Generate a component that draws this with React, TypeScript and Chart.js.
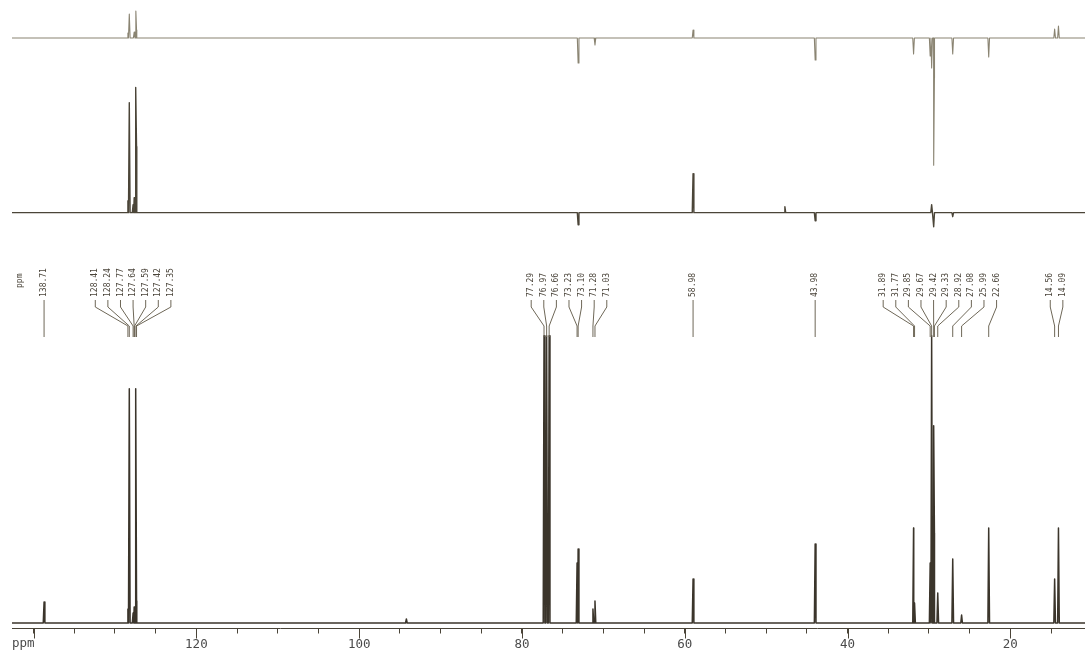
import React, { useEffect, useRef } from "react";
import { Chart, registerables } from "chart.js";

Chart.register(...registerables);

// ppm range of the x axis (reversed, high ppm on the left)
const ppmMin = 10.83;
const ppmMax = 142.65;

// 13C spectrum (bottom trace): [ppm, intensity]
const carbonPeaks: [number, number][] = [
  [138.71, 21],
  [128.41, 14],
  [128.24, 234],
  [127.77, 10],
  [127.64, 16],
  [127.59, 14],
  [127.42, 234],
  [127.35, 22],
  [94.2, 4],
  [77.29, 287],
  [76.97, 287],
  [76.66, 287],
  [73.23, 60],
  [73.1, 74],
  [71.28, 14],
  [71.03, 22],
  [58.98, 44],
  [43.98, 79],
  [31.89, 95],
  [31.77, 20],
  [29.85, 60],
  [29.67, 287],
  [29.42, 197],
  [29.33, 90],
  [28.92, 30],
  [27.08, 64],
  [25.99, 8],
  [22.66, 95],
  [14.56, 44],
  [14.09, 95],
];

// DEPT-90 (middle trace)
const dept90Peaks: [number, number][] = [
  [128.41, 12],
  [128.24, 110],
  [127.77, 8],
  [127.64, 15],
  [127.59, 10],
  [127.42, 125],
  [127.35, 66],
  [73.1, -12],
  [58.98, 39],
  [47.7, 6],
  [43.98, -8],
  [29.67, 8],
  [29.42, -14],
  [27.08, -4],
];

// DEPT-135 (top trace)
const dept135Peaks: [number, number][] = [
  [128.41, 5],
  [128.24, 24],
  [127.64, 6],
  [127.42, 27],
  [127.35, 8],
  [73.1, -25],
  [71.03, -7],
  [58.98, 8],
  [43.98, -22],
  [31.89, -16],
  [29.85, -18],
  [29.67, -30],
  [29.42, -127],
  [29.33, -40],
  [27.08, -16],
  [22.66, -19],
  [14.56, 9],
  [14.09, 12],
];

// peak-pick labels, grouped as printed
const labelGroups: number[][] = [
  [138.71],
  [128.41, 128.24, 127.77, 127.64, 127.59, 127.42, 127.35],
  [77.29, 76.97, 76.66, 73.23, 73.1, 71.28, 71.03],
  [58.98],
  [43.98],
  [31.89, 31.77, 29.85, 29.67, 29.42, 29.33, 28.92, 27.08, 25.99, 22.66],
  [14.56, 14.09],
];

const tickStep = 5;
const majorTickStep = 20;
const tickLabels = ["120", "100", "80", "60", "40", "20"];

function buildTrace(peaks: [number, number][], halfWidth: number) {
  const pts: { x: number; y: number }[] = [{ x: ppmMax, y: 0 }];
  for (const [p, h] of peaks) {
    pts.push({ x: p + halfWidth, y: 0 }, { x: p, y: h }, { x: p - halfWidth, y: 0 });
  }
  pts.push({ x: ppmMin, y: 0 });
  pts.sort((a, b) => b.x - a.x);
  return pts;
}

const INK = "#4a4438";

const annotationPlugin = {
  id: "nmrAnnotations",
  afterDraw(chart: any) {
    const { ctx, chartArea } = chart;
    const x = chart.scales.x;
    ctx.save();

    // longer major ticks
    ctx.strokeStyle = INK;
    ctx.lineWidth = 1;
    for (const t of x.ticks) {
      const v = Math.round(t.value);
      if (v % majorTickStep === 0) {
        const px = Math.round(x.getPixelForValue(v)) + 0.5;
        ctx.beginPath();
        ctx.moveTo(px, chartArea.bottom);
        ctx.lineTo(px, chartArea.bottom + 10);
        ctx.stroke();
      }
    }

    // axis unit label
    ctx.fillStyle = "#4a4a4a";
    ctx.font = "12.5px 'DejaVu Sans Mono'";
    ctx.textAlign = "left";
    ctx.textBaseline = "middle";
    ctx.fillText("ppm", 12, 644);

    // peak labels
    const spacing = 12.6;
    const textBottom = 297;
    ctx.font = "8px 'DejaVu Sans Mono'";
    ctx.fillStyle = "#4a443a";
    ctx.strokeStyle = "#6e6757";
    ctx.lineWidth = 1;

    // small vertical "ppm"
    ctx.save();
    ctx.translate(19.5, 288);
    ctx.rotate(-Math.PI / 2);
    ctx.textAlign = "left";
    ctx.textBaseline = "middle";
    ctx.fillText("ppm", 0, 0);
    ctx.restore();

    for (const group of labelGroups) {
      const pxs = group.map((p) => x.getPixelForValue(p));
      const n = group.length;
      const c = pxs.reduce((a, b) => a + b, 0) / n;
      group.forEach((p, i) => {
        const lx = n === 1 ? pxs[i] : c + (i - (n - 1) / 2) * spacing;
        const px = pxs[i];
        ctx.save();
        ctx.translate(lx, textBottom);
        ctx.rotate(-Math.PI / 2);
        ctx.textAlign = "left";
        ctx.textBaseline = "middle";
        ctx.fillText(p.toFixed(2), 0, 0);
        ctx.restore();

        ctx.beginPath();
        ctx.moveTo(lx, 300);
        if (n > 1) {
          ctx.lineTo(lx, 307);
          ctx.lineTo(px, 326);
        }
        ctx.lineTo(px, 337);
        ctx.stroke();
      });
    }
    ctx.restore();
  },
};

export default function App() {
  const ref = useRef<HTMLCanvasElement>(null);

  useEffect(() => {
    const canvas = ref.current;
    if (!canvas) return;
    const lineDefaults = {
      pointRadius: 0,
      tension: 0,
      fill: false,
      borderJoinStyle: "round" as const,
      parsing: false as const,
    };
    const chart = new Chart(canvas, {
      type: "line",
      data: {
        datasets: [
          {
            ...lineDefaults,
            label: "DEPT-135",
            data: buildTrace(dept135Peaks, 0.1),
            yAxisID: "yTop",
            borderColor: "#8a8472",
            borderWidth: 1.1,
          },
          {
            ...lineDefaults,
            label: "DEPT-90",
            data: buildTrace(dept90Peaks, 0.1),
            yAxisID: "yMid",
            borderColor: "#4b4538",
            borderWidth: 1.4,
          },
          {
            ...lineDefaults,
            label: "13C",
            data: buildTrace(carbonPeaks, 0.1),
            yAxisID: "yBot",
            borderColor: "#3b352b",
            borderWidth: 1.5,
          },
        ],
      },
      options: {
        responsive: false,
        animation: false,
        events: [],
        layout: { padding: { left: 12, right: 0, top: 0, bottom: -5.5 } },
        plugins: {
          legend: { display: false },
          tooltip: { enabled: false },
        },
        scales: {
          x: {
            type: "linear",
            position: "bottom",
            reverse: true,
            min: ppmMin,
            max: ppmMax,
            grid: {
              display: true,
              drawOnChartArea: false,
              drawTicks: true,
              tickLength: 5,
              color: INK,
              lineWidth: 1,
            },
            border: { display: true, color: INK, width: 1 },
            ticks: {
              stepSize: tickStep,
              includeBounds: false,
              autoSkip: false,
              maxRotation: 0,
              minRotation: 0,
              padding: 4,
              color: "#4a4a4a",
              font: { family: "'DejaVu Sans Mono'", size: 12.5 },
              callback: (v: any) => {
                const s = String(Math.round(Number(v)));
                return tickLabels.includes(s) ? s : "";
              },
            },
          },
          yTop: { type: "linear", display: false, min: -590, max: 38 },
          yMid: { type: "linear", display: false, min: -415.5, max: 212.5 },
          yBot: { type: "linear", display: false, min: -5.5, max: 622.5 },
        },
      },
      plugins: [annotationPlugin],
    });
    return () => chart.destroy();
  }, []);

  return (
    <canvas
      ref={ref}
      width={1085}
      height={651}
      style={{ position: "fixed", left: 0, top: 0, width: "1085px", height: "651px", background: "#fff" }}
    />
  );
}
